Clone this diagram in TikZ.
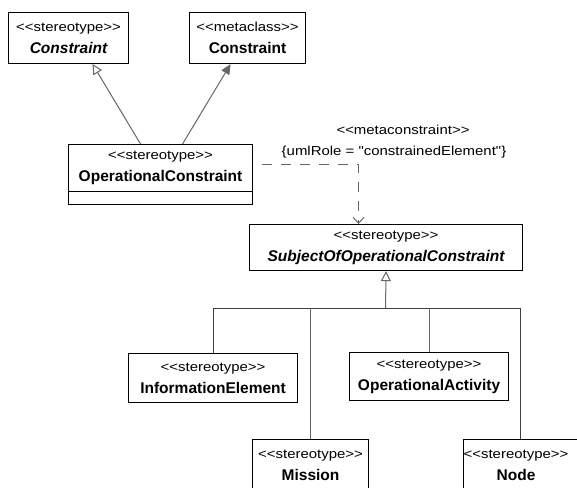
\documentclass[tikz,border=0pt]{standalone}
\usepackage{fontspec}
\setmainfont{Liberation Sans}[Ligatures=TeXOff]
\newfontfamily\stfont{Liberation Sans}[FakeStretch=1.15,Ligatures=TeXOff]
\usetikzlibrary{arrows.meta}
\newcommand\stt[1]{{\stfont\fontsize{13}{22}\selectfont <<#1>>}}
\newcommand\nm[1]{{\fontsize{15.5}{22}\selectfont\bfseries #1}}
\newcommand\nmi[1]{{\fontsize{15.5}{22}\selectfont\bfseries\itshape #1}}
\tikzset{
  box/.style={draw=black, line width=1.1pt, inner sep=0pt, align=center,
    anchor=north west, font=\fontsize{13}{22}\selectfont},
  boxline/.style={draw=black, line width=1.1pt},
  conn/.style={draw=black!60, line width=1pt},
  gen/.style={-{Triangle[open,length=10pt,width=10pt]}},
  lbl/.style={font=\fontsize{13}{22}\selectfont, inner sep=0pt}
}
\begin{document}
\begin{tikzpicture}[x=1pt,y=-1pt]
\fill[white] (0,0) rectangle (577,487);
\useasboundingbox (0,0) rectangle (577,487);
% upper boxes
\node[box, minimum width=120pt, minimum height=51pt] (C1) at (8,12) {\stt{stereotype}\\\nmi{Constraint}};
\node[box, minimum width=116pt, minimum height=51pt] (C2) at (189,12) {\stt{metaclass}\\\nm{Constraint}};
\node[box, minimum width=184pt, minimum height=47pt] (OC) at (68,144) {\stt{stereotype}\\\nm{OperationalConstraint}};
\node[box, minimum width=184pt, minimum height=13pt] (OCb) at (68,191) {};
\node[box, minimum width=273pt, minimum height=46pt] (S) at (249,224) {\stt{stereotype}\\\nmi{SubjectOfOperationalConstraint}};
% lower boxes
\node[box, minimum width=169pt, minimum height=49pt] (IE) at (128,353) {\stt{stereotype}\\\nm{InformationElement}};
\node[box, minimum width=159pt, minimum height=48pt] (OA) at (349,352) {\stt{stereotype}\\\nm{OperationalActivity}};
\node[box, minimum width=116pt, minimum height=52pt] (M) at (252,439) {\stt{stereotype}\\\nm{Mission}};
\node[box, draw=none, outer sep=0pt, minimum width=114pt, minimum height=52pt] (N) at (463.55,439.55) {};
\draw[boxline] (N.south west) -- (N.north west) -- (N.north east);
\node[lbl, align=center] (Nt) at (516,465) {\stt{stereotype}\\\nm{Node}};
% generalizations to Constraint
\draw[conn, gen] ([xshift=-20pt]OC.north) -- ([xshift=24pt]C1.south);
\draw[conn, -{Triangle[length=10pt,width=9pt]}] ([xshift=22pt]OC.north) -- ([xshift=-17pt]C2.south);
% metaconstraint dependency
\draw[conn, dash pattern=on 10pt off 9pt, dash phase=10pt, -{Straight Barb[length=6pt,width=11pt]}]
  ([yshift=3.5pt]OC.east) -| ([xshift=-27.5pt]S.north);
\node[lbl] (mc) at (403,130) {\stt{metaconstraint}};
\node[lbl] (ur) at (394,152) {{\stfont\{umlRole = "constrainedElement"\}}};
% hierarchy
\coordinate (bus) at (385.5,308);
\coordinate (ntop) at (520,439);
\draw[conn, gen] (bus) -- (S.south);
\draw[conn, draw=black!75] (IE.north) -- (IE.north |- bus) -- (bus -| ntop) -- (ntop);
\draw[conn] (M.north) -- (M.north |- bus);
\draw[conn] (OA.north) -- (OA.north |- bus);
\end{tikzpicture}
\end{document}
